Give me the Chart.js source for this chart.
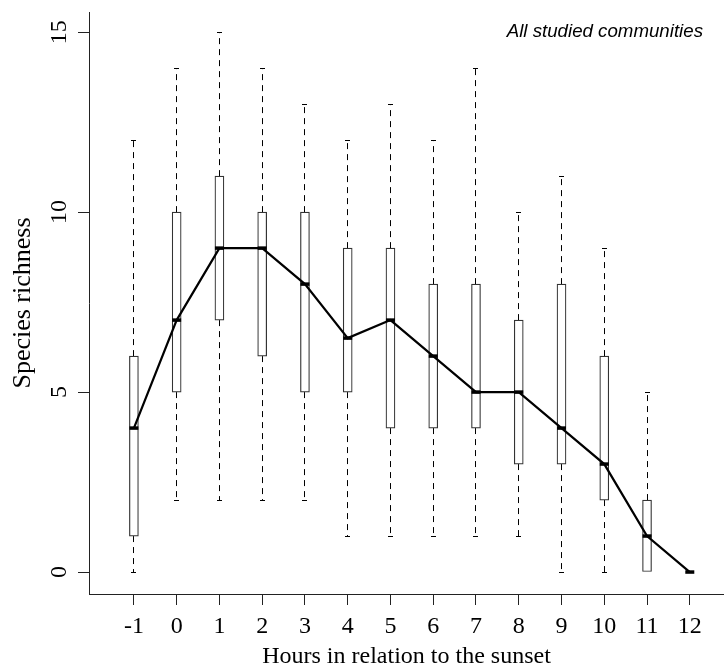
<!DOCTYPE html>
<html>
<head>
<meta charset="utf-8">
<script src="https://cdn.jsdelivr.net/npm/chart.js@4.4.0/dist/chart.umd.min.js"></script>
<style>
  html, body { margin: 0; padding: 0; background: #fff; }
  #wrap { width: 724px; height: 671px; }
</style>
</head>
<body>
<div id="wrap"><canvas id="richness"></canvas></div>
<script>
// hours relative to sunset and the five-number summary per hour
const hours = [-1, 0, 1, 2, 3, 4, 5, 6, 7, 8, 9, 10, 11, 12];
const whiskerLow = [0, 2, 2, 2, 2, 1, 1, 1, 1, 1, 0, 0, 0, 0];
const lowerQuartile = [1, 5, 7, 6, 5, 5, 4, 4, 4, 3, 3, 2, 0, 0];
const medianRichness = [4, 7, 9, 9, 8, 6.5, 7, 6, 5, 5, 4, 3, 1, 0];
const upperQuartile = [6, 10, 11, 10, 10, 9, 9, 8, 8, 7, 8, 6, 2, 0];
const whiskerHigh = [12, 14, 15, 14, 13, 12, 13, 12, 14, 10, 11, 9, 5, 0];
const yTicks = [0, 5, 10, 15];

const serif = 'Liberation Serif';
const axisColor = '#222';
const tickLen = 11;

// snap to the same half pixel Chart.js uses for 1px grid lines
const crisp = p => Math.round(p - 0.5) + 0.5;

// dashed whiskers with small staples, drawn before the boxes and medians
const whiskers = {
  id: 'whiskers',
  beforeDatasetsDraw(chart) {
    const { ctx, scales: { x, y } } = chart;
    ctx.save();
    ctx.strokeStyle = '#000';
    ctx.lineWidth = 1;
    hours.forEach((h, i) => {
      const px = crisp(x.getPixelForValue(h));
      const segs = [[upperQuartile[i], whiskerHigh[i]], [lowerQuartile[i], whiskerLow[i]]];
      segs.forEach(([from, to]) => {
        if (from === to) return;
        const y0 = y.getPixelForValue(from);
        const y1 = crisp(y.getPixelForValue(to));
        ctx.setLineDash([6, 5]);
        ctx.beginPath();
        ctx.moveTo(px, y0);
        ctx.lineTo(px, y1);
        ctx.stroke();
        ctx.setLineDash([]);
        ctx.beginPath();
        ctx.moveTo(px - 2.5, y1);
        ctx.lineTo(px + 2.5, y1);
        ctx.stroke();
      });
    });
    ctx.restore();
  }
};

// tick marks hanging under the hour axis
const hourTicks = {
  id: 'hourTicks',
  afterDatasetsDraw(chart) {
    const { ctx, scales: { x } } = chart;
    const top = Math.round(x.top);
    ctx.save();
    ctx.setLineDash([]);
    ctx.strokeStyle = axisColor;
    ctx.lineWidth = 1;
    ctx.beginPath();
    hours.forEach(h => {
      const px = crisp(x.getPixelForValue(h));
      ctx.moveTo(px, top);
      ctx.lineTo(px, top + tickLen);
    });
    ctx.stroke();
    ctx.restore();
  }
};

const cornerLabel = {
  id: 'cornerLabel',
  afterDraw(chart) {
    const { ctx } = chart;
    ctx.save();
    ctx.font = 'italic 18.7px "Liberation Sans"';
    ctx.fillStyle = '#000';
    ctx.textAlign = 'right';
    ctx.textBaseline = 'alphabetic';
    ctx.fillText('All studied communities', 703, 37);
    ctx.restore();
  }
};

const ctxRichness = document.getElementById('richness');

const dataRichness = {
  datasets: [
    {
      type: 'line',
      label: 'Median',
      data: hours.map((h, i) => ({ x: h, y: medianRichness[i] })),
      borderColor: '#000',
      borderWidth: 2.2,
      pointStyle: 'line',
      pointRadius: 4.5,
      pointBorderWidth: 3.5,
      pointBorderColor: '#000',
      pointHoverRadius: 4.5,
      order: 0
    },
    {
      type: 'bar',
      label: 'Quartiles',
      data: hours.map((h, i) => ({ x: h, y: [lowerQuartile[i], upperQuartile[i]] })),
      backgroundColor: '#fff',
      borderColor: '#333',
      borderWidth: 1.2,
      borderSkipped: false,
      barThickness: 9,
      grouped: false,
      order: 1
    }
  ]
};

const configRichness = {
  data: dataRichness,
  options: {
    responsive: true,
    maintainAspectRatio: false,
    animation: false,
    layout: { autoPadding: false, padding: { top: 12, right: 0, left: 0, bottom: 0 } },
    plugins: {
      legend: { display: false },
      tooltip: { enabled: true }
    },
    scales: {
      x: {
        type: 'linear',
        offset: false,
        min: -2.05,
        max: 12.8,
        afterBuildTicks: s => { s.ticks = hours.map(v => ({ value: v })); },
        afterFit: s => { s.height = 77; s.paddingLeft = 0; s.paddingRight = 0; },
        grid: {
          display: true,
          offset: false,
          drawOnChartArea: false,
          drawTicks: true,
          tickLength: tickLen,
          color: axisColor
        },
        border: { display: true, color: axisColor, width: 1 },
        ticks: {
          color: '#000',
          padding: 7,
          maxRotation: 0,
          autoSkip: false,
          font: { family: serif, size: 24 }
        },
        title: {
          display: true,
          text: 'Hours in relation to the sunset',
          color: '#000',
          font: { family: serif, size: 24 },
          padding: { top: 0, bottom: 0 }
        }
      },
      y: {
        min: -0.61,
        max: 15.56,
        afterBuildTicks: s => { s.ticks = yTicks.map(v => ({ value: v })); },
        afterFit: s => { s.width = 89; s.paddingTop = 0; s.paddingBottom = 0; },
        grid: { display: true, drawOnChartArea: false, drawTicks: true, tickLength: tickLen, color: axisColor },
        border: { display: true, color: axisColor, width: 1 },
        ticks: {
          color: '#000',
          minRotation: 90,
          maxRotation: 90,
          crossAlign: 'center',
          padding: 6,
          font: { family: serif, size: 24 }
        },
        title: {
          display: true,
          text: 'Species richness',
          color: '#000',
          font: { family: serif, size: 26 },
          padding: { top: 8, bottom: 0 }
        }
      }
    }
  },
  plugins: [whiskers, hourTicks, cornerLabel]
};

const richnessChart = new Chart(ctxRichness, configRichness);
</script>
</body>
</html>
